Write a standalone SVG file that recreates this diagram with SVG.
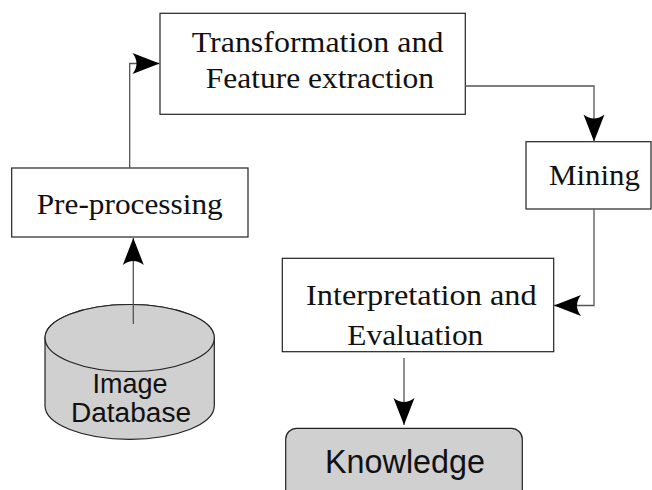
<svg xmlns="http://www.w3.org/2000/svg" width="652" height="490" viewBox="0 0 652 490">
<style>
.box{fill:#fff;stroke:#222;stroke-width:1.2}
.gray{fill:#d0d0d0;stroke:#222;stroke-width:1.2}
.serif{font-family:"Liberation Serif","Times New Roman",serif;font-size:29px;fill:#111}
.sans{font-family:"Liberation Sans",Arial,sans-serif;fill:#111}
.conn{fill:none;stroke:#555;stroke-width:1.3}
</style>
<defs>
<marker id="arr" markerUnits="userSpaceOnUse" markerWidth="30" markerHeight="24" refX="27" refY="10.5" orient="auto" overflow="visible">
<path d="M0,0 L27,10.5 L0,21 Q8,10.5 0,0 Z" fill="#000"/>
</marker>
</defs>
<g id="image-database">
<path class="gray" d="M45,338 L45,405.8 A84.65,33.5 0 0 0 214.3,405.8 L214.3,338 A84.65,33.5 0 0 0 45,338 Z"/>
<ellipse class="gray" cx="129.65" cy="338" rx="84.65" ry="33.5"/>
<text class="sans" x="130" y="392.5" font-size="27" text-anchor="middle">Image</text>
<text class="sans" x="131" y="421.7" font-size="27" text-anchor="middle" textLength="120" lengthAdjust="spacingAndGlyphs">Database</text>
</g>
<g id="pre-processing">
<rect class="box" x="11.7" y="168" width="236.3" height="69"/>
<text class="serif" x="36.7" y="214" textLength="186" lengthAdjust="spacingAndGlyphs">Pre-processing</text>
</g>
<g id="transformation">
<rect class="box" x="160" y="13.3" width="305.3" height="101"/>
<text class="serif" x="191.7" y="51.7" textLength="251.7" lengthAdjust="spacingAndGlyphs">Transformation and</text>
<text class="serif" x="205.7" y="88.3" textLength="228.3" lengthAdjust="spacingAndGlyphs">Feature extraction</text>
</g>
<g id="mining">
<rect class="box" x="526" y="141.7" width="125" height="67.3"/>
<text class="serif" x="549" y="185" textLength="91" lengthAdjust="spacingAndGlyphs">Mining</text>
</g>
<g id="interpretation">
<rect class="box" x="282.3" y="258.3" width="271.4" height="93.4"/>
<text class="serif" x="306" y="305" textLength="230.7" lengthAdjust="spacingAndGlyphs">Interpretation and</text>
<text class="serif" x="347.3" y="345" textLength="136" lengthAdjust="spacingAndGlyphs">Evaluation</text>
</g>
<g id="knowledge">
<rect class="gray" x="285.7" y="428.3" width="236.6" height="90" rx="11" ry="11"/>
<text class="sans" x="325" y="473.3" font-size="33" textLength="160" lengthAdjust="spacingAndGlyphs">Knowledge</text>
</g>
<g id="connectors">
<path class="conn" d="M133.3,324 L133.3,238" marker-end="url(#arr)"/>
<path class="conn" d="M129.7,168 L129.7,63.5 L159.5,63.5" marker-end="url(#arr)"/>
<path class="conn" d="M465.3,86 L594,86 L594,141.5" marker-end="url(#arr)"/>
<path class="conn" d="M594,209 L594,305.5 L554,305.5" marker-end="url(#arr)"/>
<path class="conn" d="M404,358 L404,425" marker-end="url(#arr)"/>
</g>
</svg>
